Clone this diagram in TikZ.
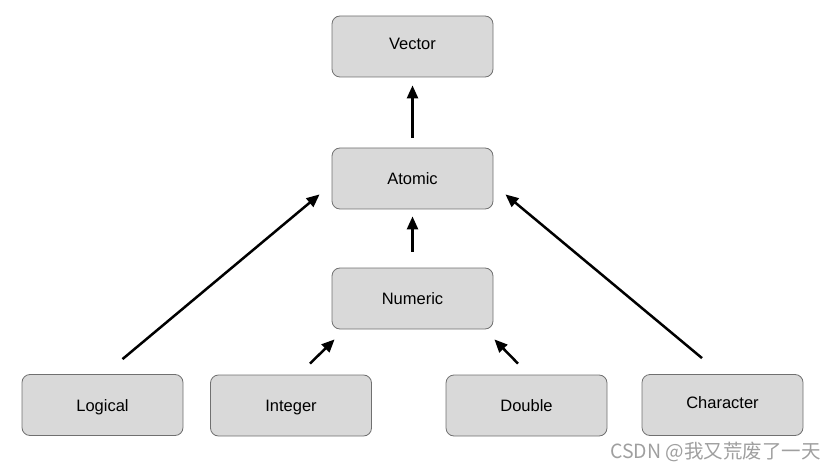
\documentclass[tikz,border=0pt]{standalone}
\usepackage{fontspec}
\setmainfont{Liberation Sans}
\newfontfamily\cjkfont{Noto Sans CJK SC}
\usetikzlibrary{arrows.meta}
\definecolor{boxfill}{HTML}{D9D9D9}
\definecolor{boxline}{HTML}{707070}
\begin{document}
\begin{tikzpicture}[
    x=1pt, y=1pt,
    typebox/.style={draw=boxline, line width=0.8pt, rectangle, rounded corners=8pt, minimum width=161pt, minimum height=61pt, align=center, fill=boxfill, font=\fontsize{16.5}{19}\selectfont, text height=15.5pt, text depth=3pt},
    arrow/.style={-{Triangle[length=13pt,width=11pt]}, line width=2.5pt, draw=black}
]
\useasboundingbox (0,0) rectangle (837,469);
\node[typebox] (vector) at (412.5,422.5) {\raisebox{3pt}{Vector}};
\node[typebox] (atomic) at (412.5,290.5) {Atomic};
\node[typebox] (numeric) at (412.5,170.5) {Numeric};
\node[typebox] (logical) at (102.5,64) {Logical};
\node[typebox] (integer) at (291,63.5) {Integer};
\node[typebox] (double) at (526.5,63.5) {Double};
\node[typebox] (character) at (722.5,64) {\raisebox{3pt}{Character}};

\draw[arrow] ([yshift=10pt]atomic.north) -- ([yshift=-8pt]vector.south);
\draw[arrow] ([yshift=16pt]numeric.north) -- ([yshift=-7pt]atomic.south);
\draw[arrow] ([xshift=20pt,yshift=15pt]logical.north) -- ([xshift=-12pt,yshift=15pt]atomic.south west);
\draw[arrow] ([xshift=-20.5pt,yshift=16pt]character.north) -- ([xshift=12pt,yshift=15pt]atomic.south east);
\draw[arrow] ([xshift=19pt,yshift=11pt]integer.north) -- ([xshift=3pt,yshift=-10pt]numeric.south west);
\draw[arrow] ([xshift=-8.5pt,yshift=11pt]double.north) -- ([xshift=1pt,yshift=-10pt]numeric.south east);

\node[anchor=base east, text=gray!75, font=\cjkfont\fontsize{19.5}{22}\selectfont, inner sep=0pt] (mark) at (821,11) {CSDN @我又荒废了一天};
\end{tikzpicture}
\end{document}
